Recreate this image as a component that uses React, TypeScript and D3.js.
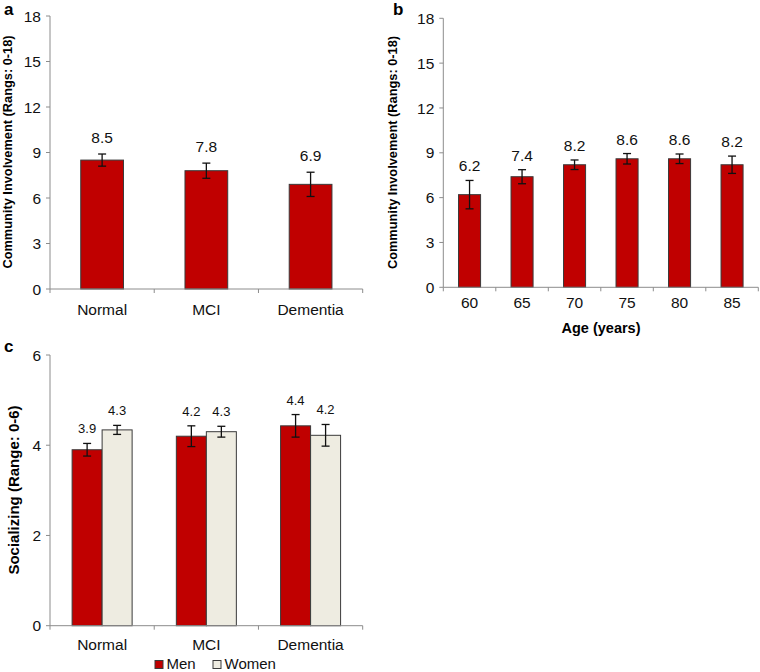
import React from "react";
import * as d3 from "d3";

const groups = ["Normal", "MCI", "Dementia"];
const valuesA = [8.5, 7.8, 6.9];
const errorsA = [0.4, 0.5, 0.8];
const yTicksA = [0, 3, 6, 9, 12, 15, 18];

const ages = ["60", "65", "70", "75", "80", "85"];
const valuesB = [6.2, 7.4, 8.2, 8.6, 8.6, 8.2];
const errorsB = [0.95, 0.47, 0.32, 0.35, 0.32, 0.58];

const sexes = ["Men", "Women"];
const menValues = [3.9, 4.2, 4.43];
const menErrors = [0.14, 0.23, 0.25];
const womenValues = [4.34, 4.3, 4.22];
const womenErrors = [0.1, 0.12, 0.24];
const yTicksC = [0, 2, 4, 6];

const RED = "#C00000";
const TAN = "#EEECE1";
const BAR_STROKE = "#3a3a3a";
const AXIS = "#8c8c8c";
const FONT = "'Liberation Sans', Arial, sans-serif";
const fmt = d3.format(".1f");

function YAxis({ y, x0, ticks }: { y: any; x0: number; ticks: number[] }) {
  const [r0, r1] = y.range();
  return (
    <g>
      <line x1={x0} x2={x0} y1={r0} y2={r1} stroke={AXIS} strokeWidth={1} />
      {ticks.map((t) => (
        <g key={t}>
          <line x1={x0 - 4} x2={x0} y1={y(t)} y2={y(t)} stroke={AXIS} strokeWidth={1} />
          <text x={x0 - 9} y={y(t)} dy="0.36em" textAnchor="end" fontSize={15.5} fill="#111" fontFamily={FONT}>
            {t}
          </text>
        </g>
      ))}
    </g>
  );
}

function XAxis({ x, y0, labelDy }: { x: any; y0: number; labelDy: number }) {
  const [a, b] = x.range();
  const dom = x.domain();
  const edges = [...dom.map((d: string) => x(d)), b];
  return (
    <g>
      <line x1={a} x2={b} y1={y0} y2={y0} stroke={AXIS} strokeWidth={1} />
      {edges.map((e: number, i: number) => (
        <line key={i} x1={e} x2={e} y1={y0} y2={y0 + 4} stroke={AXIS} strokeWidth={1} />
      ))}
      {dom.map((d: string) => (
        <text key={d} x={x(d) + x.bandwidth() / 2} y={y0 + labelDy} textAnchor="middle" fontSize={15.5} fill="#111" fontFamily={FONT}>
          {d}
        </text>
      ))}
    </g>
  );
}

function ErrorBar({ cx, y, v, e, cap = 4 }: { cx: number; y: any; v: number; e: number; cap?: number }) {
  return (
    <g stroke="#111" strokeWidth={1.3}>
      <line x1={cx} x2={cx} y1={y(v + e)} y2={y(v - e)} />
      <line x1={cx - cap} x2={cx + cap} y1={y(v + e)} y2={y(v + e)} />
      <line x1={cx - cap} x2={cx + cap} y1={y(v - e)} y2={y(v - e)} />
    </g>
  );
}

function PanelA() {
  const y = d3.scaleLinear().domain([0, 18]).range([289, 16]);
  const x = d3.scaleBand<string>().domain(groups).range([50, 362.7]);
  const bw = x.bandwidth() * 0.41;
  return (
    <g>
      <text x={4} y={15} fontSize={17} fontWeight="bold" fontFamily={FONT}>a</text>
      <text transform={`translate(12,152) rotate(-90)`} textAnchor="middle" fontSize={12.8} fontWeight="bold" fontFamily={FONT}>
        Community Involvement (Rangs: 0-18)
      </text>
      {groups.map((g, i) => {
        const cx = (x(g) as number) + x.bandwidth() / 2;
        return (
          <g key={g}>
            <rect x={cx - bw / 2} y={y(valuesA[i])} width={bw} height={y(0) - y(valuesA[i])} fill={RED} stroke={BAR_STROKE} strokeWidth={1} />
            <ErrorBar cx={cx} y={y} v={valuesA[i]} e={errorsA[i]} />
            <text x={cx} y={y(valuesA[i] + errorsA[i]) - 11} textAnchor="middle" fontSize={15.5} fill="#111" fontFamily={FONT}>
              {fmt(valuesA[i])}
            </text>
          </g>
        );
      })}
      <YAxis y={y} x0={50} ticks={yTicksA} />
      <XAxis x={x} y0={289} labelDy={26} />
    </g>
  );
}

function PanelB() {
  const y = d3.scaleLinear().domain([0, 18]).range([287.3, 18.3]);
  const x = d3.scaleBand<string>().domain(ages).range([443.3, 758.3]);
  const bw = x.bandwidth() * 0.42;
  return (
    <g>
      <text x={393} y={15} fontSize={17} fontWeight="bold" fontFamily={FONT}>b</text>
      <text transform={`translate(397,152.5) rotate(-90)`} textAnchor="middle" fontSize={12.8} fontWeight="bold" fontFamily={FONT}>
        Community Involvement (Rangs: 0-18)
      </text>
      {ages.map((g, i) => {
        const cx = (x(g) as number) + x.bandwidth() / 2;
        return (
          <g key={g}>
            <rect x={cx - bw / 2} y={y(valuesB[i])} width={bw} height={y(0) - y(valuesB[i])} fill={RED} stroke={BAR_STROKE} strokeWidth={1} />
            <ErrorBar cx={cx} y={y} v={valuesB[i]} e={errorsB[i]} />
            <text x={cx} y={y(valuesB[i] + errorsB[i]) - 9} textAnchor="middle" fontSize={15.5} fill="#111" fontFamily={FONT}>
              {fmt(valuesB[i])}
            </text>
          </g>
        );
      })}
      <YAxis y={y} x0={443.3} ticks={yTicksA} />
      <XAxis x={x} y0={287.3} labelDy={21} />
      <text x={601} y={333} textAnchor="middle" fontSize={14.5} fontWeight="bold" fontFamily={FONT}>
        Age (years)
      </text>
    </g>
  );
}

function PanelC() {
  const y = d3.scaleLinear().domain([0, 6]).range([625.7, 355]);
  const x = d3.scaleBand<string>().domain(groups).range([50, 362.7]);
  const xi = d3.scaleBand<string>().domain(sexes).range([0, x.bandwidth()]).paddingInner(0).paddingOuter(0.737);
  const series = [
    { key: "Men", vals: menValues, errs: menErrors, fill: RED },
    { key: "Women", vals: womenValues, errs: womenErrors, fill: TAN },
  ];
  return (
    <g>
      <text x={4} y={352} fontSize={17} fontWeight="bold" fontFamily={FONT}>c</text>
      <text transform={`translate(19,490) rotate(-90)`} textAnchor="middle" fontSize={15} fontWeight="bold" fontFamily={FONT}>
        Socializing (Range: 0-6)
      </text>
      {groups.map((g, i) => (
        <g key={g}>
          {series.map((s) => {
            const bx = (x(g) as number) + (xi(s.key) as number);
            const cx = bx + xi.bandwidth() / 2;
            const v = s.vals[i];
            const e = s.errs[i];
            return (
              <g key={s.key}>
                <rect x={bx} y={y(v)} width={xi.bandwidth()} height={y(0) - y(v)} fill={s.fill} stroke={BAR_STROKE} strokeWidth={1} />
                <ErrorBar cx={cx} y={y} v={v} e={e} />
                <text x={cx} y={y(v + e) - 10} textAnchor="middle" fontSize={13} fill="#111" fontFamily={FONT}>
                  {fmt(v)}
                </text>
              </g>
            );
          })}
        </g>
      ))}
      <YAxis y={y} x0={50} ticks={yTicksC} />
      <XAxis x={x} y0={625.7} labelDy={24} />
      {series.map((s, i) => {
        const lx = 155 + i * 58;
        return (
          <g key={s.key}>
            <rect x={lx} y={660.5} width={8} height={8} fill={s.fill} stroke={BAR_STROKE} strokeWidth={1} />
            <text x={lx + 11.5} y={669} fontSize={15} fill="#111" fontFamily={FONT}>
              {s.key}
            </text>
          </g>
        );
      })}
    </g>
  );
}

export default function App() {
  return (
    <div style={{ position: "absolute", left: 0, top: 0 }}>
      <svg width={760} height={672} style={{ display: "block", background: "#fff" }}>
        <PanelA />
        <PanelB />
        <PanelC />
      </svg>
    </div>
  );
}
